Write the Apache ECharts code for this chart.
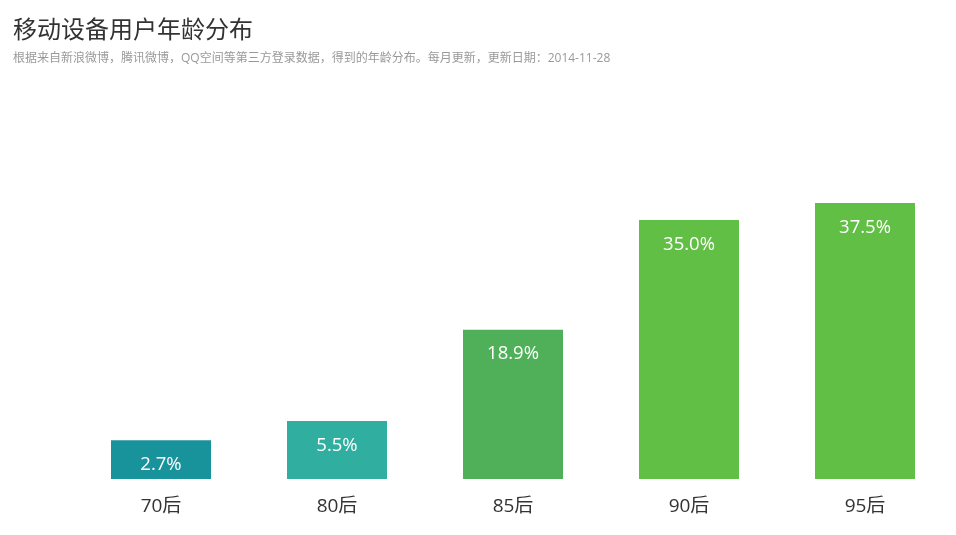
<!DOCTYPE html>
<html><head><meta charset="utf-8">
<script src="https://cdn.jsdelivr.net/npm/echarts@6/dist/echarts.min.js"></script>
<style>html,body{margin:0;padding:0;background:#fff}#c{width:956px;height:535px}</style>
</head><body><div id="c"></div>
<script>
const categories = ['70后', '80后', '85后', '90后', '95后'];
const values = [2.7, 5.5, 18.9, 35.0, 37.5];
const barColors = ['#18939b', '#30ae9f', '#50b05a', '#62bf46', '#62bf46'];
const axisMin = -3, axisMax = 40;
const font = '"Open Sans", "Noto Sans CJK SC", sans-serif';
const chart = echarts.init(document.getElementById('c'));
chart.setOption({
  animation: false,
  title: {
    text: '移动设备用户年龄分布',
    subtext: '根据来自新浪微博，腾讯微博，QQ空间等第三方登录数据，得到的年龄分布。每月更新，更新日期：2014-11-28',
    left: 8, top: 14,
    itemGap: 10,
    textStyle: { fontSize: 24, fontWeight: 'normal', color: '#333', fontFamily: font },
    subtextStyle: { fontSize: 12, color: '#999', fontFamily: font }
  },
  grid: { left: 73, right: 3, top: 186, bottom: 56, containLabel: false },
  xAxis: {
    type: 'category', data: categories,
    axisLine: { show: false }, axisTick: { show: false },
    axisLabel: { fontSize: 19, color: '#333', margin: 18, fontFamily: font }
  },
  yAxis: { type: 'value', min: axisMin, max: axisMax, show: false, splitLine: { show: false } },
  series: [{
    type: 'custom',
    data: values.map((v, i) => [i, v]),
    renderItem: function (params, api) {
      const i = api.value(0), v = api.value(1);
      const top = api.coord([i, v]);
      const bottom = api.coord([i, axisMin]);
      const w = 100;
      return {
        type: 'rect',
        shape: { x: top[0] - w / 2, y: top[1], width: w, height: bottom[1] - top[1] },
        style: { fill: barColors[i] },
        textContent: {
          style: { text: v.toFixed(1) + '%', fill: '#fff', fontSize: 18.5, fontFamily: font }
        },
        textConfig: { position: 'insideTop', distance: 15 }
      };
    }
  }]
});
</script></body></html>
